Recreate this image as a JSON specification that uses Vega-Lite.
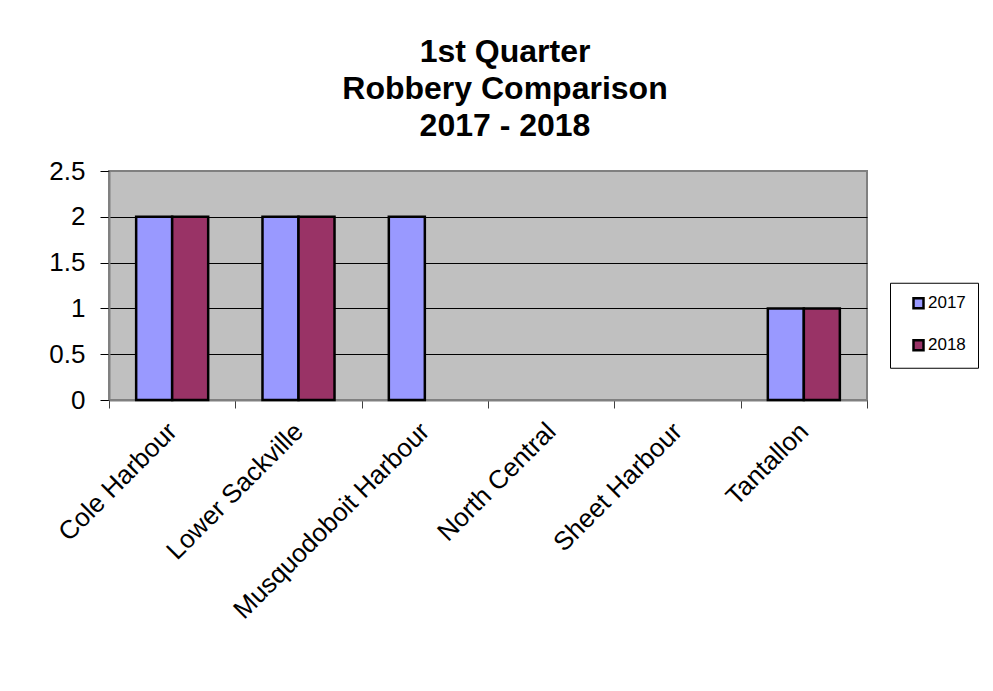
{
  "$schema": "https://vega.github.io/schema/vega-lite/v6.json",
  "width": 758,
  "height": 229,
  "autosize": {"type": "none"},
  "padding": {"left": 109, "top": 171, "right": 126, "bottom": 291},
  "background": "white",
  "title": {
    "text": ["1st Quarter", "Robbery Comparison", "2017 - 2018"],
    "font": "Liberation Sans",
    "fontSize": 32,
    "fontWeight": "bold",
    "color": "black",
    "lineHeight": 37,
    "anchor": "middle",
    "offset": 15,
    "dx": 17
  },
  "data": {
    "values": [
      {"region": "Cole Harbour", "year": "2017", "count": 2},
      {"region": "Cole Harbour", "year": "2018", "count": 2},
      {"region": "Lower Sackville", "year": "2017", "count": 2},
      {"region": "Lower Sackville", "year": "2018", "count": 2},
      {"region": "Musquodoboit Harbour", "year": "2017", "count": 2},
      {"region": "Tantallon", "year": "2017", "count": 1},
      {"region": "Tantallon", "year": "2018", "count": 1}
    ]
  },
  "mark": {"type": "bar", "stroke": "black", "strokeWidth": 2.5},
  "encoding": {
    "x": {
      "field": "region",
      "type": "nominal",
      "sort": null,
      "scale": {
        "domain": ["Cole Harbour", "Lower Sackville", "Musquodoboit Harbour", "North Central", "Sheet Harbour", "Tantallon"],
        "paddingInner": 0,
        "paddingOuter": 0
      },
      "axis": {
        "title": null,
        "labelAngle": -45,
        "labelAlign": "right",
        "labelBaseline": "middle",
        "labelFontSize": 26,
        "labelColor": "black",
        "labelPadding": 19,
        "labelLimit": 0,
        "tickBand": "extent",
        "tickSize": 8,
        "tickColor": "#404040",
        "domainColor": "#808080",
        "domainWidth": 2,
        "grid": false
      }
    },
    "xOffset": {
      "field": "year",
      "type": "nominal",
      "scale": {"domain": ["2017", "2018"], "paddingInner": 0, "paddingOuter": 0.754}
    },
    "y": {
      "field": "count",
      "type": "quantitative",
      "scale": {"domain": [0, 2.5], "nice": false},
      "axis": {
        "title": null,
        "values": [0, 0.5, 1, 1.5, 2, 2.5],
        "format": "~g",
        "grid": true,
        "gridColor": {"condition": {"test": "datum.value == 2.5", "value": "#808080"}, "value": "black"},
        "gridWidth": 1,
        "gridOpacity": 1,
        "labelFontSize": 26,
        "labelColor": "black",
        "labelPadding": 15,
        "tickSize": 9,
        "tickColor": "black",
        "domainColor": "#808080",
        "domainWidth": 2
      }
    },
    "color": {
      "field": "year",
      "type": "nominal",
      "scale": {"domain": ["2017", "2018"], "range": ["#9999FF", "#993366"]},
      "legend": {
        "title": null,
        "orient": "none",
        "legendX": 781,
        "legendY": 111.75,
        "strokeColor": "black",
        "fillColor": "white",
        "padding": 12,
        "symbolType": "square",
        "symbolSize": 100,
        "symbolStrokeColor": "black",
        "symbolStrokeWidth": 2.5,
        "symbolOffset": 8,
        "labelFontSize": 17,
        "labelColor": "black",
        "labelOffset": 1,
        "rowPadding": 21,
        "labelExpr": "datum.label + '\u00a0\u00a0'"
      }
    }
  },
  "config": {
    "font": "Liberation Sans",
    "view": {"fill": "#C0C0C0", "stroke": "#808080", "strokeWidth": 2}
  }
}
